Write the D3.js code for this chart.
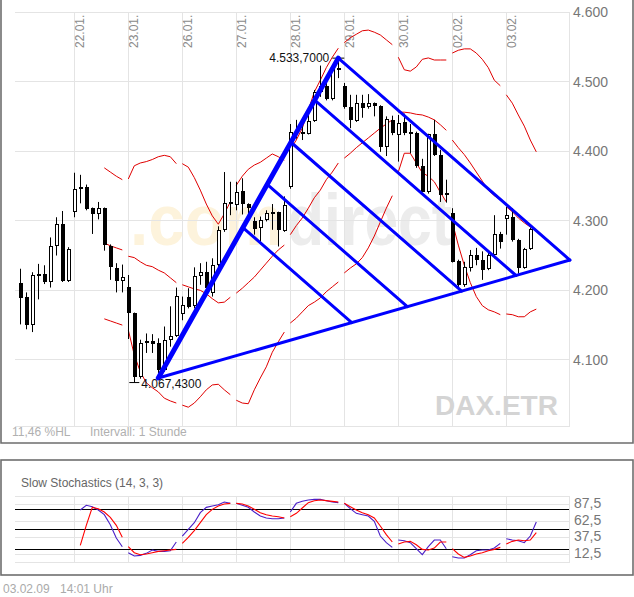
<!DOCTYPE html>
<html><head><meta charset="utf-8">
<script src="https://cdn.jsdelivr.net/npm/d3@7/dist/d3.min.js"></script>
<style>body{margin:0;background:#fff}svg{display:block;font-family:"Liberation Sans",Arial,sans-serif}</style>
</head><body><svg id="c" width="634" height="597"></svg>
<script>
// ---------- DATA ----------
const dayLabels = ["22.01.","23.01.","26.01.","27.01.","28.01.","29.01.","30.01.","02.02.","03.02."];
const dayStart  = [9,18,27,36,45,54,63,72,81];          // candle index of each day's first hour
const priceTicks = [4100,4200,4300,4400,4500,4600];
const stochTicks = [12.5,37.5,62.5,87.5];
const stochLevels = [20,50,80];

const open  = [4210,4190,4150,4224,4223,4212,4263,4295,4213,4313,4345,4348,4318,4310,4318,4264,4232,4214,4205,4167,4076,4124,4127,4125,4085,4129,4134,4166,4190,4177,4220,4227,4196,4236,4287,4327,4323,4343,4324,4300,4289,4301,4312,4312,4285,4348,4427,4427,4425,4443,4485,4494,4475,4519,4494,4464,4444,4469,4464,4469,4465,4406,4445,4423,4442,4427,4426,4379,4341,4424,4394,4340,4311,4242,4208,4232,4251,4244,4230,4251,4281,4303,4306,4273,4232,4259];
const high  = [4231,4197,4226,4238,4236,4276,4305,4314,4262,4369,4366,4352,4319,4327,4319,4266,4239,4237,4222,4168,4129,4138,4137,4131,4148,4177,4204,4191,4203,4233,4239,4241,4246,4292,4370,4356,4356,4361,4325,4305,4306,4315,4324,4313,4335,4439,4445,4440,4459,4488,4523,4507,4524,4533.7,4498,4481,4481,4481,4482,4470,4466,4450,4451,4452,4454,4439,4428,4389,4425,4445,4402,4359,4318,4244,4241,4258,4261,4256,4258,4308,4284,4320,4318,4274,4261,4290];
const low   = [4151,4144,4140,4187,4209,4204,4250,4212,4212,4305,4325,4315,4281,4302,4257,4215,4197,4197,4130,4067.43,4073,4110,4110,4081,4083,4119,4133,4157,4174,4174,4208,4197,4191,4229,4284,4308,4315,4309,4301,4280,4270,4299,4287,4263,4284,4346,4418,4416,4424,4442,4478,4473,4473,4505,4461,4433,4442,4448,4461,4450,4399,4393,4423,4385,4423,4397,4376,4341,4339,4393,4327,4326,4240,4203,4205,4227,4236,4215,4229,4246,4260,4280,4270,4224,4231,4258];
const close = [4189,4150,4222,4221,4212,4264,4295,4214,4260,4345,4348,4317,4310,4318,4265,4233,4214,4219,4167,4076,4125,4127,4123,4085,4129,4134,4192,4179,4176,4220,4227,4203,4236,4287,4325,4324,4342,4324,4318,4288,4301,4311,4310,4287,4323,4427,4430,4424,4443,4485,4494,4475,4520,4516,4464,4445,4469,4462,4469,4465,4406,4446,4426,4440,4426,4425,4378,4342,4424,4395,4337,4337,4241,4208,4233,4251,4244,4229,4251,4281,4270,4308,4272,4232,4259,4288];

// Bollinger bands, one segment per trading day
const bandStart = [14,18,27,36,45,54,63,72,81];
const bandUpper = [[4376,4370,4364,4359],[4360,4379,4383,4385,4388,4392,4394,4392,4382],[4382,4377,4362,4344,4324,4307,4295,4310,4327],[4351,4364,4374,4380,4384,4390,4396,4392,4387],[4402,4416,4433,4459,4485,4502,4520,4535,4548],[4556,4563,4568,4573,4574,4571,4567,4560,4553],[4535,4517,4515,4521,4532,4534,4531,4531,4531],[4541,4545,4547,4547,4541,4532,4520,4502,4494],[4481,4469,4452,4436,4416,4399]];
const bandMiddle = [[4268,4264,4261,4258],[4249,4247,4241,4236,4234,4229,4225,4218,4211],[4208,4205,4202,4200,4195,4188,4182,4183,4190],[4196,4203,4211,4219,4229,4239,4249,4258,4265],[4280,4293,4304,4318,4333,4344,4359,4370,4383],[4390,4397,4405,4412,4419,4426,4433,4439,4445],[4456,4456,4455,4453,4452,4449,4445,4438,4430],[4416,4405,4395,4383,4370,4357,4344,4336,4330],[4320,4313,4304,4297,4291,4287]];
const bandLower = [[4159,4156,4153,4150],[4143,4107,4083,4067,4060,4054,4045,4041,4038],[4035,4032,4038,4047,4057,4064,4065,4057,4050],[4042,4038,4037,4057,4074,4090,4111,4126,4140],[4153,4160,4169,4178,4183,4189,4198,4205,4212],[4225,4232,4238,4247,4261,4278,4298,4318,4336],[4370,4397,4397,4383,4369,4364,4356,4341,4327],[4298,4265,4236,4211,4191,4178,4172,4169,4165],[4166,4165,4162,4162,4169,4173]];

// Slow stochastics (14,3,3), one segment per day
const stochStart = [10,18,27,36,45,54,63,72,81];
const stochK = [[79,86,84,79,72,57,37,24],[15,10,11,14,19,17,17,18,31],[40,50,60,75,83,85,87,91,89],[89,86,83,76,70,67,66,66,67],[76,89,92,94,95,95,93,91,90],[89,81,74,72,70,62,40,30,23],[34,33,30,21,12,24,34,34,21],[9,7,7,12,18,19,19,22,29],[36,34,33,30,40,61]];
const stochD = [[26,56,83,81,76,68,56,38],[24,15,12,13,15,17,18,19,20],[29,38,48,60,72,80,85,88,89],[89,88,85,80,75,72,70,69,67],[69,74,82,90,93,94,93,92,91],[89,84,79,75,72,67,55,42,31],[28,31,32,27,20,19,22,31,31],[21,13,8,10,13,15,18,20,23],[28,32,34,33,34,45]];

// Fan (anchor points as [candle index, price]) and its inner levels
const fanA = [23, 4074];
const fanB = [53, 4533.7];
const fanC = [91.6, 4243.5];
const fanLevels = [0.47, 0.605, 0.737, 0.869];

const lowMark  = {i:19, v:4067.43};
const highMark = {i:53, v:4533.70};

// ---------- DRAWING ----------
const de = d3.formatLocale({decimal:",", thousands:".", grouping:[3], currency:["","€"]});
const fmtP = de.format(",d"), fmtS = de.format(",.1f"), fmtX = de.format(",.4f");

const svg = d3.select("#c");
const x  = d3.scaleLinear().domain([-0.883, 91.45]).range([15, 569]);
const y  = d3.scaleLinear().domain([4005, 4600]).range([426, 12]);
const ys = d3.scaleLinear().domain([0, 100]).range([562.7, 496]);
const px = v => Math.floor(v) + 0.5;

// frames
svg.append("path").attr("d","M1,0V443H633V0").attr("fill","none").attr("stroke","#6e6e6e").attr("stroke-width",1.6);
svg.append("rect").attr("x",1).attr("y",460).attr("width",632).attr("height",115).attr("fill","none").attr("stroke","#6e6e6e").attr("stroke-width",1.6);

// watermark (two parts)
svg.append("text").attr("x",130).attr("y",245).attr("font-size",72).attr("font-weight","bold")
  .attr("textLength",153).attr("lengthAdjust","spacingAndGlyphs").attr("fill","#fdf3dc").text(".com");
svg.append("text").attr("x",287).attr("y",245).attr("font-size",72).attr("font-weight","bold")
  .attr("textLength",165).attr("lengthAdjust","spacingAndGlyphs").attr("fill","#ececec").text("direct");

// main grid
const g = svg.append("g");
const gridC = "#e4e4e4";
priceTicks.forEach(v => g.append("line").attr("x1",15).attr("x2",569).attr("y1",px(y(v))).attr("y2",px(y(v))).attr("stroke",gridC));
g.append("line").attr("x1",15).attr("x2",569).attr("y1",426.5).attr("y2",426.5).attr("stroke",gridC);
dayStart.forEach(k => g.append("line").attr("x1",px(x(k))).attr("x2",px(x(k))).attr("y1",12).attr("y2",426).attr("stroke",gridC));
g.append("line").attr("x1",569.5).attr("x2",569.5).attr("y1",12).attr("y2",427).attr("stroke",gridC);

// date labels
dayStart.forEach((k,i) => g.append("text").attr("transform",`translate(${Math.floor(x(k))+10},48) rotate(-90)`)
  .attr("font-size",12).attr("fill","#8a8a8a").text(dayLabels[i]));
// price labels
priceTicks.forEach(v => g.append("text").attr("x",573).attr("y",y(v)+5).attr("font-size",14).attr("fill","#777").text(fmtP(v)));

// bands
const bandLine = d3.line().x(d => x(d[0])).y(d => y(d[1]));
[bandUpper, bandMiddle, bandLower].forEach(band => band.forEach((seg,si) => {
  g.append("path").attr("d", bandLine(seg.map((v,j) => [bandStart[si]+j, v])))
   .attr("fill","none").attr("stroke","#e00000").attr("stroke-width",1);
}));

// candles
open.forEach((o,k) => {
  const c = Math.floor(x(k));
  const up = close[k] >= o;
  g.append("line").attr("x1",c+0.5).attr("x2",c+0.5).attr("y1",y(high[k])).attr("y2",y(low[k])).attr("stroke","#000");
  const t = Math.round(y(Math.max(o,close[k]))), b = Math.round(y(Math.min(o,close[k])));
  if (up) g.append("rect").attr("x",c-0.5).attr("y",t+0.5).attr("width",3).attr("height",Math.max(b-t-1,0.5)).attr("fill","#fff").attr("stroke","#000");
  else g.append("rect").attr("x",c-1).attr("y",t).attr("width",4).attr("height",Math.max(b-t,1)).attr("fill","#000");
});

// extreme markers
const hx = x(highMark.i), hy = y(highMark.v);
g.append("line").attr("x1",hx-6).attr("x2",hx+6).attr("y1",hy).attr("y2",hy).attr("stroke","#000");
g.append("text").attr("x",hx-9).attr("y",hy+4).attr("text-anchor","end").attr("font-size",12).attr("fill","#111").text(fmtX(highMark.v));
const lx = x(lowMark.i), ly = y(lowMark.v);
g.append("line").attr("x1",lx-5).attr("x2",lx+5).attr("y1",ly).attr("y2",ly).attr("stroke","#000");

// fan
const P = p => [x(p[0]), y(p[1])];
const A = P(fanA), B = P(fanB), C = P(fanC);
const fan = svg.append("g").attr("stroke","#0000ff").attr("stroke-linecap","round").attr("fill","none");
const seg = (p,q,w) => fan.append("line").attr("x1",p[0]).attr("y1",p[1]).attr("x2",q[0]).attr("y2",q[1]).attr("stroke-width",w);
seg(A,C,3); seg(B,C,3);
fanLevels.forEach(t => seg([A[0]+(B[0]-A[0])*t, A[1]+(B[1]-A[1])*t],[A[0]+(C[0]-A[0])*t, A[1]+(C[1]-A[1])*t],3));
seg(A,B,5);

svg.append("text").attr("x",lx+7).attr("y",ly+5).attr("font-size",12).attr("fill","#111").text(fmtX(lowMark.v));

// footer texts
svg.append("text").attr("x",12).attr("y",436).attr("font-size",12).attr("fill","#b0b0b0").text("11,46 %HL");
svg.append("text").attr("x",90).attr("y",436).attr("font-size",12).attr("fill","#b0b0b0").text("Intervall: 1 Stunde");
svg.append("text").attr("x",435).attr("y",415).attr("font-size",28).attr("font-weight","bold").attr("fill","#d4d4d4").text("DAX.ETR");

// stochastics panel
const s = svg.append("g");
s.append("text").attr("x",21).attr("y",486.5).attr("font-size",12).attr("fill","#666").text("Slow Stochastics (14, 3, 3)");
[0,100].concat(stochTicks).forEach(v => s.append("line").attr("x1",15).attr("x2",569).attr("y1",px(ys(v))).attr("y2",px(ys(v))).attr("stroke",gridC));
dayStart.forEach(k => s.append("line").attr("x1",px(x(k))).attr("x2",px(x(k))).attr("y1",496).attr("y2",563).attr("stroke",gridC));
s.append("line").attr("x1",569.5).attr("x2",569.5).attr("y1",496).attr("y2",563).attr("stroke",gridC);
stochLevels.forEach(v => s.append("line").attr("x1",15).attr("x2",569).attr("y1",px(ys(v))).attr("y2",px(ys(v))).attr("stroke","#000"));
stochTicks.forEach(v => s.append("text").attr("x",574).attr("y",ys(v)+3.5).attr("font-size",14).attr("fill","#777").text(fmtS(v)));
const sLine = d3.line().x(d => x(d[0])).y(d => ys(d[1]));
stochK.forEach((sg,si) => s.append("path").attr("d", sLine(sg.map((v,j) => [stochStart[si]+j, v]))).attr("fill","none").attr("stroke","#4a1fc8").attr("stroke-width",1.1));
stochD.forEach((sg,si) => s.append("path").attr("d", sLine(sg.map((v,j) => [stochStart[si]+j, v]))).attr("fill","none").attr("stroke","#ff0000").attr("stroke-width",1.1));

svg.append("text").attr("x",3).attr("y",593).attr("font-size",12).attr("fill","#aaa").text("03.02.09");
svg.append("text").attr("x",60).attr("y",593).attr("font-size",12).attr("fill","#aaa").text("14:01 Uhr");
</script></body></html>
